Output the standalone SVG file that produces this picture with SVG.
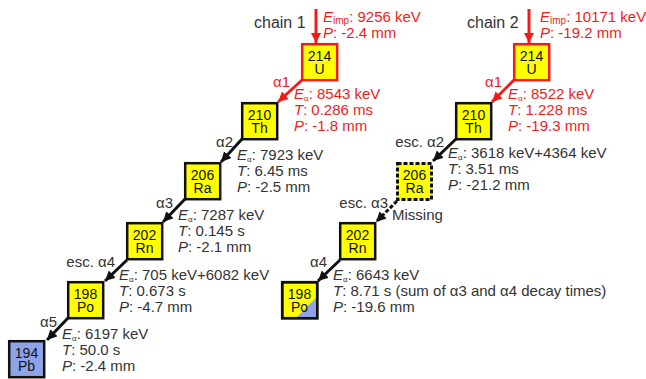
<svg xmlns="http://www.w3.org/2000/svg" width="646" height="379" viewBox="0 0 646 379">
<style>
text{font-family:"Liberation Sans",Arial,sans-serif;font-size:15px;fill:#333}
.r{fill:#f01c1c}
.c{text-anchor:middle;fill:#111;font-size:14px}
.e{text-anchor:end}
.i{font-style:italic}
.s{font-size:8px}
.s2{font-size:10px}
.ch{font-size:16px}
.box{fill:#ffff00;stroke:#111;stroke-width:2.5}
.rbox{fill:#ffff00;stroke:#f01c1c;stroke-width:2.5}
.pb{fill:#8ea3e8;stroke:#111;stroke-width:2.5}
.dash{fill:#ffff00;stroke:#111;stroke-width:3;stroke-dasharray:4 2}
.ar{stroke:#111;stroke-width:3;fill:none}
.arr{stroke:#f01c1c;stroke-width:3;fill:none}
</style>
<defs>
<marker id="mk" markerUnits="userSpaceOnUse" markerWidth="12" markerHeight="12" refX="10" refY="5" orient="auto">
<path d="M0,0 L10,5 L0,10 Z" fill="#111"/>
</marker>
<marker id="mr" markerUnits="userSpaceOnUse" markerWidth="12" markerHeight="12" refX="10" refY="5" orient="auto">
<path d="M0,0 L10,5 L0,10 Z" fill="#f01c1c"/>
</marker>
</defs>

<g id="connectors">
<line class="arr" x1="316" y1="9" x2="316" y2="43" marker-end="url(#mr)"/>
<line class="arr" x1="302" y1="80" x2="278" y2="102" marker-end="url(#mr)"/>
<line class="ar" x1="242" y1="139" x2="221" y2="162" marker-end="url(#mk)"/>
<line class="ar" x1="185" y1="199" x2="163" y2="222" marker-end="url(#mk)"/>
<line class="ar" x1="127" y1="260" x2="105" y2="281" marker-end="url(#mk)"/>
<line class="ar" x1="68" y1="318" x2="47" y2="340" marker-end="url(#mk)"/>
<line class="arr" x1="529" y1="9" x2="529" y2="43" marker-end="url(#mr)"/>
<line class="arr" x1="514" y1="80" x2="492" y2="102" marker-end="url(#mr)"/>
<line class="ar" x1="456" y1="139" x2="433" y2="161" marker-end="url(#mk)"/>
<line class="ar" x1="397" y1="201" x2="376" y2="222" marker-end="url(#mk)" stroke-dasharray="4 2"/>
<line class="ar" x1="340" y1="260" x2="318" y2="281" marker-end="url(#mk)"/>
</g>

<g id="c1-U214"><rect class="rbox" x="302.2" y="44.2" width="35" height="36"/><text class="c r" x="319.5" y="60.5">214</text><text class="c r" x="319.5" y="73.5">U</text></g>
<g id="c1-Th210"><rect class="box" x="242.2" y="103.2" width="35" height="36"/><text class="c" x="259.5" y="119.5">210</text><text class="c" x="259.5" y="132.5">Th</text></g>
<g id="c1-Ra206"><rect class="box" x="185.2" y="163.2" width="35" height="36"/><text class="c" x="202.5" y="179.5">206</text><text class="c" x="202.5" y="192.5">Ra</text></g>
<g id="c1-Rn202"><rect class="box" x="127.2" y="223.2" width="35" height="36"/><text class="c" x="144.5" y="239.5">202</text><text class="c" x="144.5" y="252.5">Rn</text></g>
<g id="c1-Po198"><rect class="box" x="68.2" y="282.2" width="35" height="36"/><text class="c" x="85.5" y="298.5">198</text><text class="c" x="85.5" y="311.5">Po</text></g>
<g id="c1-Pb194"><rect class="pb" x="9.2" y="341.2" width="35" height="36"/><text class="c" x="26.5" y="357.5">194</text><text class="c" x="26.5" y="370.5">Pb</text></g>

<g id="c2-U214"><rect class="rbox" x="514.2" y="44.2" width="35" height="36"/><text class="c r" x="531.5" y="60.5">214</text><text class="c r" x="531.5" y="73.5">U</text></g>
<g id="c2-Th210"><rect class="box" x="456.2" y="103.2" width="35" height="36"/><text class="c" x="473.5" y="119.5">210</text><text class="c" x="473.5" y="132.5">Th</text></g>
<g id="c2-Ra206"><rect class="dash" x="397.5" y="163.5" width="34" height="36"/><text class="c" x="414.5" y="179.5">206</text><text class="c" x="414.5" y="192.5">Ra</text></g>
<g id="c2-Rn202"><rect class="box" x="340.2" y="223.2" width="35" height="36"/><text class="c" x="357.5" y="239.5">202</text><text class="c" x="357.5" y="252.5">Rn</text></g>
<g id="c2-Po198"><rect class="box" x="282.2" y="282.2" width="35" height="36"/><path d="M297,317 L316.9,317 L316.9,297 Z" fill="#8ea3e8"/><rect x="282.2" y="282.2" width="35" height="36" fill="none" stroke="#111" stroke-width="2.5"/><text class="c" x="299.5" y="298.5">198</text><text class="c" x="299.5" y="311.5">Po</text></g>

<g id="labels">
<text class="ch" x="254" y="28">chain 1</text>
<text class="ch" x="467" y="28">chain 2</text>

<text class="r" x="323" y="22"><tspan class="i">E</tspan><tspan class="s2" dy="2">imp</tspan><tspan dy="-2">: 9256 keV</tspan></text>
<text class="r" x="323" y="38"><tspan class="i">P</tspan>: -2.4 mm</text>
<text class="r" x="540" y="22"><tspan class="i">E</tspan><tspan class="s2" dy="2">imp</tspan><tspan dy="-2">: 10171 keV</tspan></text>
<text class="r" x="540" y="38"><tspan class="i">P</tspan>: -19.2 mm</text>

<text class="r e" x="290" y="87">α1</text>
<text class="e" x="233" y="147">α2</text>
<text class="e" x="173" y="208">α3</text>
<text class="e" x="115" y="267">esc. α4</text>
<text class="e" x="57" y="327">α5</text>
<text class="r e" x="502" y="87">α1</text>
<text class="e" x="444" y="147">esc. α2</text>
<text class="e" x="388" y="208">esc. α3</text>
<text x="392" y="220">Missing</text>
<text class="e" x="327" y="267">α4</text>

<text class="r" x="294" y="99"><tspan class="i">E</tspan><tspan class="s" dy="2">α</tspan><tspan dy="-2">: 8543 keV</tspan></text>
<text class="r" x="294" y="115"><tspan class="i">T</tspan>:<tspan dx="4">0.286 ms</tspan></text>
<text class="r" x="294" y="131"><tspan class="i">P</tspan>: -1.8 mm</text>

<text x="237" y="160"><tspan class="i">E</tspan><tspan class="s" dy="2">α</tspan><tspan dy="-2">: 7923 keV</tspan></text>
<text x="237" y="176"><tspan class="i">T</tspan>: 6.45 ms</text>
<text x="237" y="192"><tspan class="i">P</tspan>: -2.5 mm</text>

<text x="178" y="220"><tspan class="i">E</tspan><tspan class="s" dy="2">α</tspan><tspan dy="-2">: 7287 keV</tspan></text>
<text x="178" y="236"><tspan class="i">T</tspan>: 0.145 s</text>
<text x="178" y="252"><tspan class="i">P</tspan>: -2.1 mm</text>

<text x="119" y="280"><tspan class="i">E</tspan><tspan class="s" dy="2">α</tspan><tspan dy="-2">: 705 keV+6082 keV</tspan></text>
<text x="119" y="296"><tspan class="i">T</tspan>: 0.673 s</text>
<text x="119" y="312"><tspan class="i">P</tspan>: -4.7 mm</text>

<text x="62" y="339"><tspan class="i">E</tspan><tspan class="s" dy="2">α</tspan><tspan dy="-2">: 6197 keV</tspan></text>
<text x="62" y="355"><tspan class="i">T</tspan>: 50.0 s</text>
<text x="62" y="371"><tspan class="i">P</tspan>: -2.4 mm</text>

<text class="r" x="508" y="99"><tspan class="i">E</tspan><tspan class="s" dy="2">α</tspan><tspan dy="-2">: 8522 keV</tspan></text>
<text class="r" x="508" y="115"><tspan class="i">T</tspan>: 1.228 ms</text>
<text class="r" x="508" y="131"><tspan class="i">P</tspan>: -19.3 mm</text>

<text x="448" y="158"><tspan class="i">E</tspan><tspan class="s" dy="2">α</tspan><tspan dy="-2">: 3618 keV+4364 keV</tspan></text>
<text x="448" y="174"><tspan class="i">T</tspan>: 3.51 ms</text>
<text x="448" y="190"><tspan class="i">P</tspan>: -21.2 mm</text>

<text x="333" y="280"><tspan class="i">E</tspan><tspan class="s" dy="2">α</tspan><tspan dy="-2">: 6643 keV</tspan></text>
<text x="333" y="296"><tspan class="i">T</tspan>: 8.71 s (sum of α3 and α4 decay times)</text>
<text x="333" y="312"><tspan class="i">P</tspan>: -19.6 mm</text>
</g>
</svg>
